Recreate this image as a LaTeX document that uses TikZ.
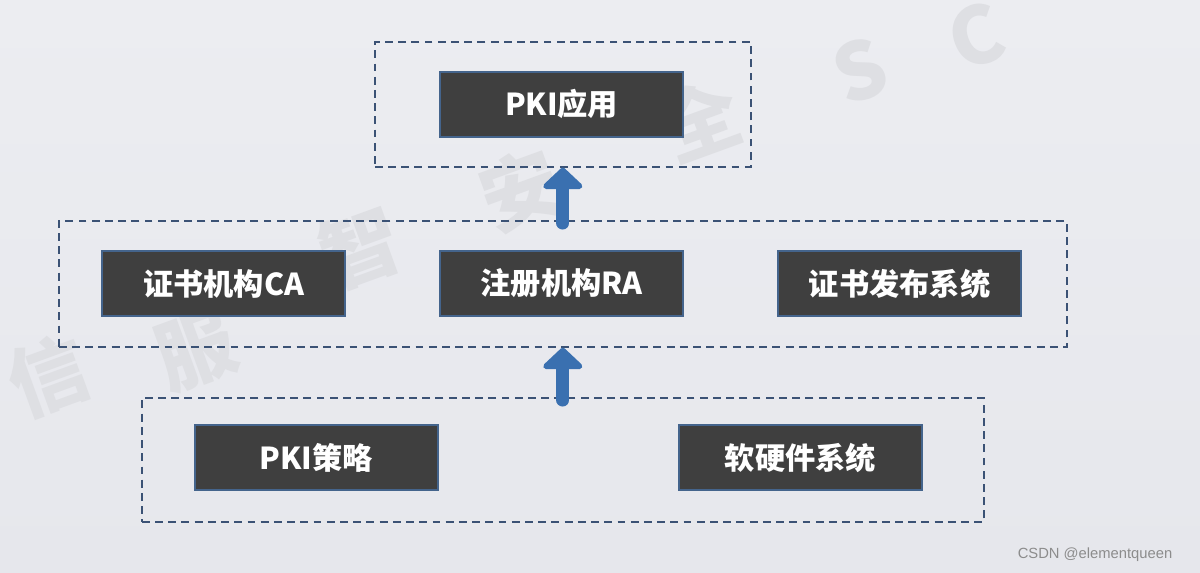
\documentclass[tikz,border=0pt]{standalone}
\usepackage{fontspec}
\usepackage{xcolor}
\usepackage{tikz}
\usetikzlibrary{arrows.meta}
\newfontfamily\cjk{Noto Sans CJK SC}
\newfontfamily\csdnfont{Liberation Sans}
\definecolor{pkidark}{RGB}{63,63,63}
\definecolor{pkiedge}{RGB}{68,100,140}
\definecolor{pkidash}{RGB}{59,82,117}
\definecolor{pkiblue}{RGB}{58,112,176}
\definecolor{pkimark}{RGB}{222,223,227}
\definecolor{pkibgtop}{RGB}{236,237,241}
\definecolor{pkibgmid}{RGB}{232,233,238}
\definecolor{pkibgbot}{RGB}{230,231,236}
\tikzset{
  pkibox/.style={draw=pkiedge,line width=1.4pt,fill=pkidark,text=white,
    minimum width=6.075cm,minimum height=1.625cm,inner sep=0pt,
    font=\cjk\bfseries\fontsize{21.5}{25}\selectfont},
  groupframe/.style={draw=pkidash,line width=1.05pt,dash pattern=on 5.6pt off 3.8pt,
    inner sep=0pt},
  uparrow/.style={pkiblue,line width=9.2pt,line cap=round,
    -{Triangle[width=33pt,length=16pt,round]}},
  watermark/.style={pkimark,rotate=20,font=\cjk\bfseries\fontsize{56}{60}\selectfont}
}

\begin{document}
\begin{tikzpicture}
  \useasboundingbox (0,0) rectangle (30,-14.325);
  \shade[top color=pkibgtop,middle color=pkibgmid,bottom color=pkibgbot] (0,0) rectangle (30,-14.325);
  % background watermark
  \node[watermark] (m1) at (1.2,-9.4) {信};
  \node[watermark] (m2) at (4.9,-8.75) {服};
  \node[watermark] (m3) at (9.0,-6.2) {智};
  \node[watermark] (m4) at (13.0,-4.75) {安};
  \node[watermark] (m5) at (17.5,-3.0) {全};
  \node[watermark] (m6) at (21.5,-1.75) {S};
  \node[watermark] (m7) at (24.4,-0.9) {C};

  % frames
  \node[groupframe,minimum width=9.4cm,minimum height=3.125cm] (top) at (14.07,-2.61) {};
  \node[groupframe,minimum width=25.2cm,minimum height=3.15cm] (mid) at (14.07,-7.1) {};
  \node[groupframe,minimum width=21.05cm,minimum height=3.1cm] (bot) at (14.07,-11.5) {};

  % boxes
  \node[pkibox] (app) at (14.04,-2.61) {PKI应用};
  \node[pkibox] (ca) at (5.59,-7.09) {证书机构CA};
  \node[pkibox] (ra) at (14.04,-7.09) {注册机构RA};
  \node[pkibox] (pub) at (22.49,-7.09) {证书发布系统};
  \node[pkibox] (policy) at (7.91,-11.44) {PKI策略};
  \node[pkibox] (hwsw) at (20.01,-11.44) {软硬件系统};

  % arrows
  \draw[uparrow] ([yshift=-2pt]mid.north) -- (top.south);
  \draw[uparrow] ([yshift=-2pt]bot.north) -- (mid.south);

  \node[text=black!45,font=\csdnfont\fontsize{10.5}{12}\selectfont] (csdn) at (27.375,-13.875) {CSDN @elementqueen};
\end{tikzpicture}
\end{document}
